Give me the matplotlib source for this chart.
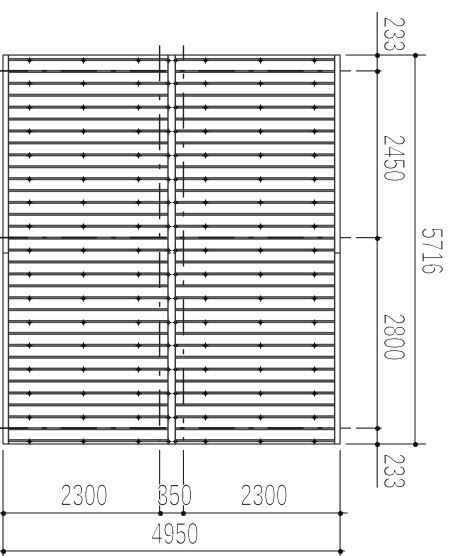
import matplotlib
matplotlib.use("Agg")
import matplotlib.pyplot as plt
import matplotlib.patheffects as pe
from matplotlib.transforms import Affine2D

# all lengths in mm, as on the drawing
col_x = [0, 2300, 2650, 4950]
row_y = [0, 233, 3033, 5483, 5716]
col_labels = ["2300", "350", "2300"]
col_label_x = [1190, 2518, 3833]
row_labels = ["233", "2800", "2450", "233"]
row_label_y = [-397, 1572, 4203, 6025]
total_w = "4950"
total_h = "5716"

plank_y = [50, 225, 400, 575, 750, 925, 1100, 1275, 1450, 1625, 1800,
           1975, 2150, 2325, 2500, 2675, 2850, 3025, 3200, 3375, 3550, 3725,
           3900, 4075, 4250, 4425, 4600, 4775, 4950, 5125, 5300, 5475, 5650]
bolt_rows = plank_y[::2]
bolt_x = [380, 1180, 1980, 2420, 2530, 2970, 3770, 4570]

frame_x = [80, 2423, 2530, 4870]
joint_y = 2807

INK = "#111111"
GREY = "#666666"
LW = 0.8

plt.rcParams["lines.scale_dashes"] = False

fig = plt.figure(figsize=(4.5, 5.56), dpi=100)
ax = fig.add_axes([0, 0, 1, 1])
ax.set_xlim(-44, 6564)
ax.set_ylim(-1646, 6525)
ax.axis("off")


class ThinNarrow(pe.AbstractPathEffect):
    # squeeze glyphs sideways and shave them, the drawing uses a thin CAD font
    def __init__(self, squeeze, shave):
        super().__init__()
        self.squeeze = squeeze
        self.shave = shave

    def draw_path(self, renderer, gc, tpath, affine, rgbFace=None):
        box = tpath.get_extents()
        cx = (box.x0 + box.x1) / 2
        tr = Affine2D().translate(-cx, 0).scale(self.squeeze, 1).translate(cx, 0) + affine
        renderer.draw_path(gc, tpath, tr, rgbFace)
        gc0 = renderer.new_gc()
        gc0.copy_properties(gc)
        gc0.set_foreground("white")
        gc0.set_linewidth(self.shave)
        renderer.draw_path(gc0, tpath, tr, None)
        gc0.restore()


def line(xs, ys, color=INK, lw=LW, **kw):
    ax.plot(xs, ys, color=color, lw=lw, solid_capstyle="butt", snap=False, **kw)


# planks, each one a pair of close lines
for y in plank_y:
    for dy in (-11, 11):
        line([frame_x[0], frame_x[1]], [y + dy, y + dy], color="#4a4a4a", lw=1.15)
        line([frame_x[2], frame_x[3]], [y + dy, y + dy], color="#4a4a4a", lw=1.15)

# bolts
for y in bolt_rows:
    ax.plot(bolt_x, [y] * len(bolt_x), ls="none", marker="+", ms=4.5, mew=0.8, color=INK)
    ax.plot(bolt_x, [y] * len(bolt_x), ls="none", marker="o", ms=2.6, mew=0, color=INK)

# outer frame and the centre gap
top, bot = row_y[0], row_y[-1]
line([col_x[0], col_x[-1], col_x[-1], col_x[0], col_x[0]], [top, top, bot, bot, top], color="#222222")
for x in frame_x:
    line([x, x], [top, bot], color="#333333", lw=1.0)
line(frame_x[1:3], [joint_y, joint_y], color="#222222", ls=(0, (2.2, 1.5)))
line([col_x[0], frame_x[0]], [joint_y, joint_y], color="#222222")
line([frame_x[3], col_x[-1]], [joint_y, joint_y], color="#222222")

# centre lines: long dash, gap, short dash, gap (in points)
dash = (26, 10, 3.6, 10)
for y in row_y[1:-1]:
    ax.plot([col_x[0] - 44, frame_x[3]], [y, y], color=INK, lw=1.1, ls=(5.8, dash), snap=False)
    line([col_x[-1], 5110], [y, y], color="#222222")
    line([5185, 5560], [y, y], color="#222222")

for x, off in zip(col_x[1:3], (0, 15.5)):
    ax.plot([x, x], [5860, 50], color="#222222", lw=1.0, ls=(off, dash), snap=False)

# dimension lines below
dim1, dim2 = -1014, -1572
line([-44, 5060], [dim1, dim1], color=GREY, lw=1.1)
line([-44, 5020], [dim2, dim2], color=GREY, lw=1.1)
for x in (col_x[0], col_x[-1]):
    line([x, x], [-88, -1646], color="#222222")
for x in col_x[1:3]:
    line([x, x], [-88, dim1], color="#222222")
ax.plot(col_x, [dim1] * 4, ls="none", marker="o", ms=3.6, mew=0, color=INK)
ax.plot([col_x[0], col_x[-1]], [dim2] * 2, ls="none", marker="o", ms=3.6, mew=0, color=INK)

# dimension lines on the right
dim3, dim4 = 5495, 6050
line([dim3, dim3], [-640, 6350], color="#222222")
line([dim4, dim4], [row_y[0], row_y[-1]], color=GREY, lw=1.1)
for y in (row_y[0], row_y[-1]):
    line([5030, 6210], [y, y], color="#333333")
ax.plot([dim3] * 5, row_y, ls="none", marker="o", ms=3.6, mew=0, color=INK)
ax.plot([dim4] * 2, [row_y[0], row_y[-1]], ls="none", marker="o", ms=3.6, mew=0, color=INK)

# text
font = dict(family="Liberation Sans", fontsize=22, color="#222222", ha="center", va="center",
            path_effects=[ThinNarrow(0.7, 0.85)])

for label, x in zip(col_labels, col_label_x):
    ax.text(x, -786, label, **font)
ax.text(2525, -1352, total_w, **font)

text_x = 5712
for label, y in zip(row_labels, row_label_y):
    ax.text(text_x, y, label, rotation=-90, **font)
ax.text(6270, 2836, total_h, rotation=-90, **font)

fig.savefig("out.png", dpi=100)
